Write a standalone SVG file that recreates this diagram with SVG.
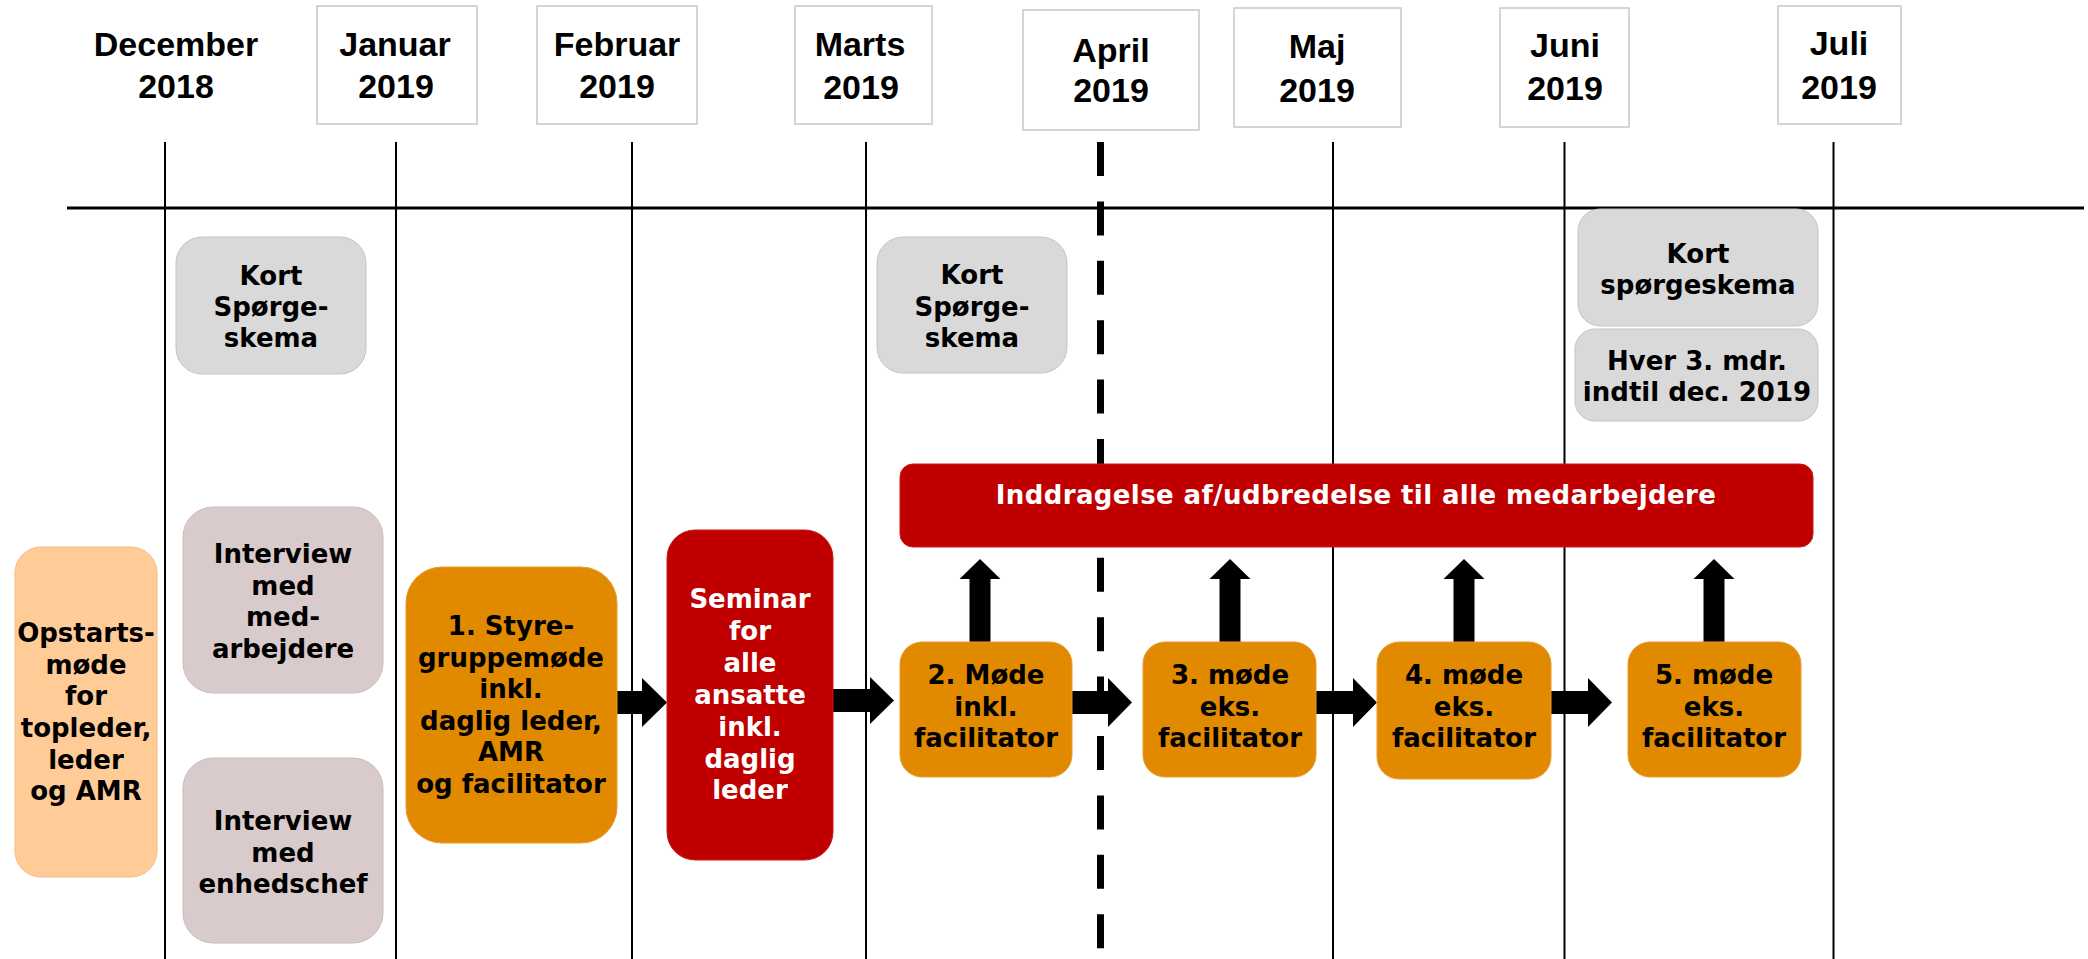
<svg xmlns="http://www.w3.org/2000/svg" width="2088" height="959" viewBox="0 0 2088 959">
<style>
.hb{fill:#ffffff;stroke:#c8c8c8;stroke-width:1.5}
.ht{font-family:"Liberation Sans",Arial,sans-serif;font-weight:bold;font-size:34px;fill:#000;text-anchor:middle}
.t{font-family:"DejaVu Sans",Verdana,sans-serif;font-weight:bold;font-size:26px;fill:#000;text-anchor:middle}
.w{fill:#ffffff}
.grey{fill:#d9d9d9;stroke:#c4c4c4;stroke-width:1}
.pink{fill:#d9cbcc;stroke:#c9bcbc;stroke-width:1}
.peach{fill:#ffcb97;stroke:#f0bd8a;stroke-width:1}
.orange{fill:#e18a00;stroke:#e89a30;stroke-width:1}
.red{fill:#c00000;stroke:#c81a1a;stroke-width:1}
.vl{stroke:#000;stroke-width:2;fill:none}
.arr{fill:#000}
</style>
<g id="timeline">
<line x1="67" y1="208" x2="2084" y2="208" stroke="#000" stroke-width="3"/>
<line class="vl" x1="165" y1="142" x2="165" y2="959"/>
<line class="vl" x1="396" y1="142" x2="396" y2="959"/>
<line class="vl" x1="632" y1="142" x2="632" y2="959"/>
<line class="vl" x1="866" y1="142" x2="866" y2="959"/>
<line x1="1100.5" y1="142" x2="1100.5" y2="959" stroke="#000" stroke-width="7" stroke-dasharray="34 25.4"/>
<line class="vl" x1="1333" y1="142" x2="1333" y2="959"/>
<line class="vl" x1="1564.5" y1="142" x2="1564.5" y2="959"/>
<line class="vl" x1="1833.5" y1="142" x2="1833.5" y2="959"/>
</g>
<g id="month-dec"><text class="ht" x="176" y="56">December</text><text class="ht" x="176" y="98">2018</text></g>
<g id="month-jan"><rect class="hb" x="317" y="6" width="160" height="118"/><text class="ht" x="395" y="56">Januar</text><text class="ht" x="396" y="98">2019</text></g>
<g id="month-feb"><rect class="hb" x="537" y="6" width="160" height="118"/><text class="ht" x="617" y="56">Februar</text><text class="ht" x="617" y="98">2019</text></g>
<g id="month-mar"><rect class="hb" x="795" y="6" width="137" height="118"/><text class="ht" x="860" y="56">Marts</text><text class="ht" x="861" y="99">2019</text></g>
<g id="month-apr"><rect class="hb" x="1023" y="10" width="176" height="120"/><text class="ht" x="1111" y="62">April</text><text class="ht" x="1111" y="102">2019</text></g>
<g id="month-maj"><rect class="hb" x="1234" y="8" width="167" height="119"/><text class="ht" x="1317" y="58">Maj</text><text class="ht" x="1317" y="102">2019</text></g>
<g id="month-jun"><rect class="hb" x="1500" y="8" width="129" height="119"/><text class="ht" x="1565" y="57">Juni</text><text class="ht" x="1565" y="100">2019</text></g>
<g id="month-jul"><rect class="hb" x="1778" y="6" width="123" height="118"/><text class="ht" x="1839" y="55">Juli</text><text class="ht" x="1839" y="99">2019</text></g>
<g id="connectors">
<path class="arr" d="M606,691 H642 V678 L667,702.5 L642,727 V714 H606 Z"/>
<path class="arr" d="M832,689 H870 V677 L894,700.5 L870,724 V712 H832 Z"/>
<path class="arr" d="M1071,691 H1108 V678 L1132,702.5 L1108,727 V714 H1071 Z"/>
<path class="arr" d="M1315,691 H1353 V678 L1377,702.5 L1353,727 V714 H1315 Z"/>
<path class="arr" d="M1550,691 H1588 V678 L1612,702.5 L1588,727 V714 H1550 Z"/>
<path class="arr" d="M969.5,644 V579 H959.5 L980,559 L1000.5,579 H990.5 V644 Z"/>
<path class="arr" d="M1219.5,644 V579 H1209.5 L1230,559 L1250.5,579 H1240.5 V644 Z"/>
<path class="arr" d="M1453.5,644 V579 H1443.5 L1464,559 L1484.5,579 H1474.5 V644 Z"/>
<path class="arr" d="M1703.5,644 V579 H1693.5 L1714,559 L1734.5,579 H1724.5 V644 Z"/>
</g>
<g id="kort1"><rect class="grey" x="176" y="237" width="190" height="137" rx="26"/>
<text class="t" x="271" y="285">Kort</text><text class="t" x="271" y="316">Spørge-</text><text class="t" x="271" y="347">skema</text></g>
<g id="interview1"><rect class="pink" x="183" y="507" width="200" height="186" rx="30"/>
<text class="t" x="283" y="563">Interview</text><text class="t" x="283" y="594.5">med</text><text class="t" x="283" y="626">med-</text><text class="t" x="283" y="657.5">arbejdere</text></g>
<g id="interview2"><rect class="pink" x="183" y="758" width="200" height="185" rx="30"/>
<text class="t" x="283" y="830">Interview</text><text class="t" x="283" y="861.5">med</text><text class="t" x="283" y="893">enhedschef</text></g>
<g id="opstart"><rect class="peach" x="15" y="547" width="142" height="330" rx="26"/>
<text class="t" x="86" y="642">Opstarts-</text><text class="t" x="86" y="673.5">møde</text><text class="t" x="86" y="705">for</text><text class="t" x="86" y="737">topleder,</text><text class="t" x="86" y="768.5">leder</text><text class="t" x="86" y="800">og AMR</text></g>
<g id="styre"><rect class="orange" x="406" y="567" width="211" height="276" rx="36"/>
<text class="t" x="511" y="635">1. Styre-</text><text class="t" x="511" y="666.5">gruppemøde</text><text class="t" x="511" y="698">inkl.</text><text class="t" x="511" y="729.5">daglig leder,</text><text class="t" x="511" y="761">AMR</text><text class="t" x="511" y="792.5">og facilitator</text></g>
<g id="seminar"><rect class="red" x="667" y="530" width="166" height="330" rx="28"/>
<text class="t w" x="750" y="608">Seminar</text><text class="t w" x="750" y="640">for</text><text class="t w" x="750" y="672">alle</text><text class="t w" x="750" y="704">ansatte</text><text class="t w" x="750" y="736">inkl.</text><text class="t w" x="750" y="768">daglig</text><text class="t w" x="750" y="799">leder</text></g>
<g id="kort2"><rect class="grey" x="877" y="237" width="190" height="136" rx="26"/>
<text class="t" x="972" y="284">Kort</text><text class="t" x="972" y="315.5">Spørge-</text><text class="t" x="972" y="347">skema</text></g>
<g id="kort3"><rect class="grey" x="1578" y="209" width="240" height="117" rx="22"/>
<text class="t" x="1698" y="263">Kort</text><text class="t" x="1698" y="294">spørgeskema</text></g>
<g id="hver"><rect class="grey" x="1575" y="329" width="243" height="92" rx="20"/>
<text class="t" x="1697" y="370">Hver 3. mdr.</text><text class="t" x="1697" y="401">indtil dec. 2019</text></g>
<g id="inddragelse"><rect class="red" x="900" y="464" width="913" height="83" rx="13"/>
<text class="t w" x="1356" y="504" letter-spacing="0.4">Inddragelse af/udbredelse til alle medarbejdere</text></g>
<g id="mode2"><rect class="orange" x="900" y="642" width="172" height="135" rx="22"/>
<text class="t" x="986" y="684">2. Møde</text><text class="t" x="986" y="715.5">inkl.</text><text class="t" x="986" y="747">facilitator</text></g>
<g id="mode3"><rect class="orange" x="1143" y="642" width="173" height="135" rx="22"/>
<text class="t" x="1230" y="684">3. møde</text><text class="t" x="1230" y="715.5">eks.</text><text class="t" x="1230" y="747">facilitator</text></g>
<g id="mode4"><rect class="orange" x="1377" y="642" width="174" height="137" rx="22"/>
<text class="t" x="1464" y="684">4. møde</text><text class="t" x="1464" y="715.5">eks.</text><text class="t" x="1464" y="747">facilitator</text></g>
<g id="mode5"><rect class="orange" x="1628" y="642" width="173" height="135" rx="22"/>
<text class="t" x="1714" y="684">5. møde</text><text class="t" x="1714" y="715.5">eks.</text><text class="t" x="1714" y="747">facilitator</text></g>
</svg>
